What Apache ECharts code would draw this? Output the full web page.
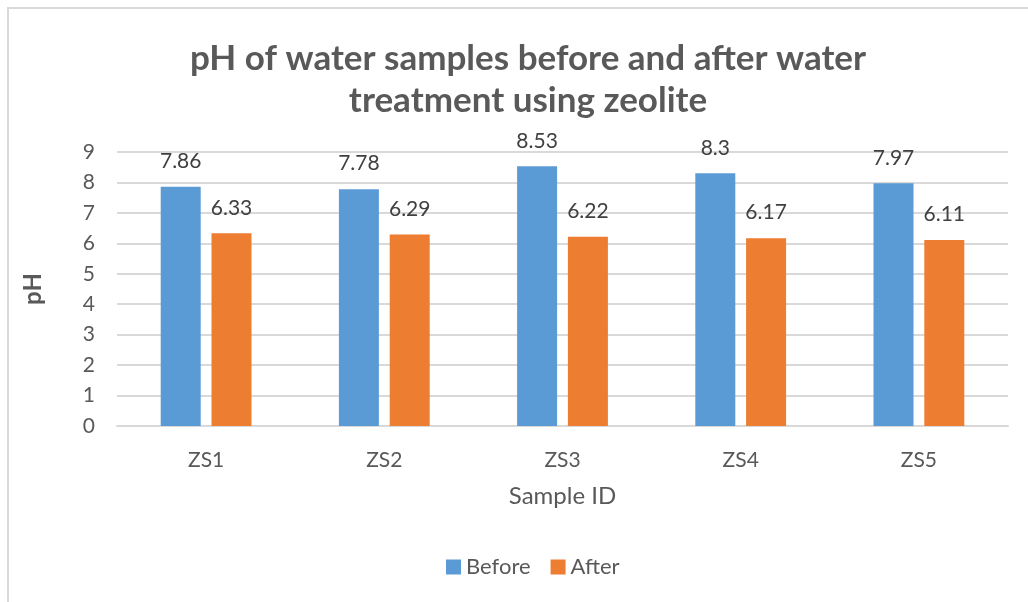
<!DOCTYPE html>
<html>
<head>
<meta charset="utf-8">
<title>pH of water samples</title>
<script src="https://cdn.jsdelivr.net/npm/echarts@6/dist/echarts.min.js"></script>
<style>
  html, body { margin: 0; padding: 0; background: #ffffff; }
  #frame { position: absolute; left: 7px; top: 7px; right: -2px; bottom: -2px; border: 2px solid #d9d9d9; }
  #chart { position: absolute; left: 0; top: 0; width: 1028px; height: 602px; }
</style>
</head>
<body>
<div id="frame"></div>
<div id="chart"></div>
<script>
// Sample IDs and pH readings
const categories = ['ZS1', 'ZS2', 'ZS3', 'ZS4', 'ZS5'];
const beforeValues = [7.86, 7.78, 8.53, 8.3, 7.97];
const afterValues = [6.33, 6.29, 6.22, 6.17, 6.11];
const yTicks = { min: 0, max: 9, interval: 1 };

const FONT = 'Lato, "Open Sans", sans-serif';
const chart = echarts.init(document.getElementById('chart'), null, { renderer: 'canvas' });

const labelStyle = {
  show: true,
  position: 'top',
  distance: 15,
  color: '#404040',
  fontSize: 21,
  fontFamily: FONT
};

chart.setOption({
  backgroundColor: 'transparent',
  animation: false,
  title: {
    text: 'pH of water samples before and after water\ntreatment using zeolite',
    left: 523,
    textAlign: 'center',
    top: 33,
    textStyle: {
      color: '#595959',
      fontSize: 35,
      fontWeight: 'bold',
      fontFamily: FONT,
      lineHeight: 42
    }
  },
  legend: {
    data: ['Before', 'After'],
    left: 441,
    top: 551,
    itemWidth: 15,
    itemHeight: 15,
    itemGap: 20,
    icon: 'rect',
    textStyle: { color: '#595959', fontSize: 22, fontFamily: FONT }
  },
  grid: { left: 117, right: 20, top: 152, bottom: 176, containLabel: false },
  xAxis: {
    type: 'category',
    data: categories,
    name: 'Sample ID',
    nameLocation: 'middle',
    nameGap: 58,
    nameTextStyle: { color: '#595959', fontSize: 24, fontFamily: FONT },
    axisLine: { lineStyle: { color: '#d9d9d9', width: 2 } },
    axisTick: { show: false },
    axisLabel: { color: '#595959', fontSize: 21, fontFamily: FONT, margin: 24 }
  },
  yAxis: {
    type: 'value',
    min: yTicks.min,
    max: yTicks.max,
    interval: yTicks.interval,
    name: 'pH',
    nameLocation: 'middle',
    nameGap: 72,
    nameRotate: 90,
    nameTextStyle: { color: '#595959', fontSize: 24, fontWeight: 'bold', fontFamily: FONT },
    axisLine: { show: false },
    axisTick: { show: false },
    axisLabel: { color: '#595959', fontSize: 21, fontFamily: FONT, margin: 22 },
    splitLine: { lineStyle: { color: '#d9d9d9', width: 2 } }
  },
  series: [
    {
      name: 'Before',
      type: 'bar',
      data: beforeValues,
      barWidth: 40,
      barGap: '27%',
      itemStyle: { color: '#5b9bd5' },
      label: labelStyle
    },
    {
      name: 'After',
      type: 'bar',
      data: afterValues,
      barWidth: 40,
      itemStyle: { color: '#ed7d31' },
      label: labelStyle
    }
  ]
});
</script>
</body>
</html>
